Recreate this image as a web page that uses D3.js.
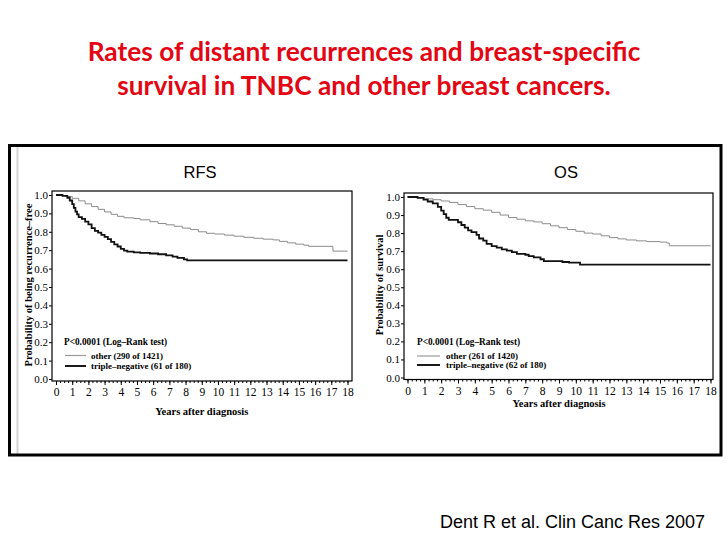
<!DOCTYPE html>
<html><head><meta charset="utf-8">
<script src="https://cdn.jsdelivr.net/npm/d3@7"></script>
<style>body{margin:0;background:#fff}</style>
</head><body>
<svg id="c" width="728" height="546"></svg>
<script>
// ---------- data ----------
const titleLines = ["Rates of distant recurrences and breast-specific", "survival in TNBC and other breast cancers."];
const sourceText = "Dent R et al. Clin Canc Res 2007";
const panelTitles = ["RFS", "OS"];
const yTitles = ["Probability of being recurrence\u2013free", "Probability of survival"];
const xTitle = "Years after diagnosis";
const pValueText = "P<0.0001 (Log\u2013Rank test)";
const rfsLegend = ["other (290 of 1421)", "triple\u2013negative (61 of 180)"];
const osLegend = ["other (261 of 1420)", "triple\u2013negative (62 of 180)"];
const xTickValues = d3.range(0, 19);
const yTickValues = [0, 0.1, 0.2, 0.3, 0.4, 0.5, 0.6, 0.7, 0.8, 0.9, 1.0];

// [years, probability] step points (Kaplan-Meier)
const rfsOther = [[0,1],[0.3,0.997],[0.6,0.992],[1.0,0.982],[1.4,0.968],[1.8,0.952],[2.2,0.937],[2.6,0.922],[3.0,0.908],[3.4,0.895],[3.8,0.884],[4.2,0.876],[4.8,0.872],[5.2,0.865],[5.8,0.855],[6.3,0.845],[6.8,0.838],[7.3,0.83],[7.8,0.82],[8.3,0.812],[8.8,0.8],[9.3,0.792],[9.8,0.788],[10.4,0.782],[11.0,0.776],[11.6,0.77],[12.2,0.765],[12.8,0.76],[13.4,0.756],[13.8,0.748],[14.3,0.74],[14.8,0.733],[15.3,0.727],[15.6,0.721],[17.1,0.695],[18,0.695]];
const rfsTriple = [[0,1],[0.4,0.995],[0.7,0.985],[0.85,0.97],[1.0,0.95],[1.1,0.93],[1.2,0.91],[1.3,0.895],[1.4,0.88],[1.6,0.87],[1.8,0.855],[2.0,0.84],[2.2,0.82],[2.4,0.805],[2.6,0.795],[2.8,0.783],[3.0,0.772],[3.2,0.76],[3.4,0.745],[3.6,0.732],[3.8,0.72],[4.0,0.707],[4.2,0.698],[4.4,0.692],[4.8,0.688],[5.2,0.685],[5.8,0.682],[6.3,0.678],[6.8,0.672],[7.2,0.665],[7.5,0.658],[7.9,0.65],[8.1,0.645],[18,0.645]];
const osOther = [[0,1],[0.5,0.997],[1.0,0.99],[1.5,0.985],[2.0,0.978],[2.5,0.97],[3.0,0.958],[3.5,0.947],[4.0,0.935],[4.5,0.927],[5.0,0.915],[5.5,0.9],[6.0,0.886],[6.5,0.877],[7.0,0.868],[7.5,0.862],[8.0,0.852],[8.5,0.84],[9.0,0.83],[9.5,0.82],[10.0,0.81],[10.5,0.8],[11.0,0.795],[11.5,0.785],[12.0,0.775],[12.5,0.768],[13.0,0.762],[13.6,0.757],[14.2,0.753],[15.0,0.75],[15.4,0.745],[15.55,0.73],[18,0.73]];
const osTriple = [[0,1],[0.6,0.995],[0.95,0.985],[1.2,0.975],[1.5,0.965],[1.8,0.945],[2.0,0.925],[2.15,0.905],[2.3,0.885],[2.45,0.873],[3.0,0.86],[3.2,0.845],[3.4,0.83],[3.6,0.815],[3.8,0.805],[4.1,0.79],[4.25,0.77],[4.5,0.758],[4.7,0.74],[5.0,0.728],[5.3,0.72],[5.6,0.71],[5.9,0.703],[6.2,0.695],[6.5,0.685],[7.0,0.68],[7.2,0.672],[7.5,0.665],[7.9,0.655],[8.1,0.645],[9.2,0.64],[9.6,0.636],[10.25,0.625],[18,0.625]];

// ---------- drawing ----------
const svg = d3.select("#c");
const serif = "'Liberation Serif','Times New Roman',serif";
const sans = "'Liberation Sans',Arial,sans-serif";

// title
const titleTarget = 553;
const tl = svg.selectAll("text.title").data(titleLines).join("text")
  .attr("class","title")
  .attr("x", 364).attr("y", (d,i) => i ? 95 : 61)
  .attr("text-anchor","middle")
  .attr("font-family","Lato, 'Open Sans', sans-serif")
  .attr("font-weight","bold")
  .attr("font-size", 28)
  .attr("fill","#e30613")
  .text(d => d);
const w0 = tl.node().getComputedTextLength();
tl.attr("font-size", 28 * titleTarget / w0);

// outer frame
svg.append("line").attr("x1",17.5).attr("x2",17.5).attr("y1",147).attr("y2",454)
  .attr("stroke","#d4d4d4").attr("stroke-width",2);
svg.append("rect").attr("x",9.5).attr("y",145.5).attr("width",711.5).attr("height",309.5)
  .attr("fill","none").attr("stroke","#000").attr("stroke-width",3);

// source
svg.append("text").attr("x",572.5).attr("y",528).attr("text-anchor","middle")
  .attr("font-family",sans).attr("font-size",18).attr("fill","#000").text(sourceText);

const panels = [
  {title: panelTitles[0], titleX: 200, yTitle: yTitles[0], yTitleX: 28, xTitleY: 415,
   frame: {x0: 52, x1: 352, y0: 191, y1: 381}, xr: [56, 347.5], yr: [379, 195],
   other: rfsOther, triple: rfsTriple, legend: rfsLegend,
   leg: {px: 64, py: 345, lx0: 65, lx1: 86, ly: [355.5, 366], tx: 91}},
  {title: panelTitles[1], titleX: 566, yTitle: yTitles[1], yTitleX: 379, xTitleY: 407,
   frame: {x0: 404, x1: 713, y0: 193, y1: 379.5}, xr: [407.5, 710.5], yr: [377.5, 197],
   other: osOther, triple: osTriple, legend: osLegend,
   leg: {px: 417, py: 345, lx0: 417, lx1: 440, ly: [356, 365], tx: 446}}
];

panels.forEach(p => {
  const g = svg.append("g");
  const x = d3.scaleLinear().domain([0, 18]).range(p.xr);
  const y = d3.scaleLinear().domain([0, 1]).range(p.yr);
  const f = p.frame;

  g.append("text").attr("x", p.titleX).attr("y", 178).attr("text-anchor","middle")
    .attr("font-family", sans).attr("font-size", 16.5).attr("fill","#000").text(p.title);

  // y axis
  const ya = g.append("g").attr("transform", `translate(${f.x0},0)`)
    .call(d3.axisLeft(y).tickValues(yTickValues).tickFormat(d3.format(".1f")).tickSize(3).tickPadding(1));
  ya.select(".domain").remove();
  ya.selectAll("text").attr("font-family", serif).attr("font-size", 11).attr("fill","#000");

  // x axis major
  const xa = g.append("g").attr("transform", `translate(0,${f.y1})`)
    .call(d3.axisBottom(x).tickValues(xTickValues).tickFormat(d3.format("d")).tickSize(4).tickPadding(3));
  xa.select(".domain").remove();
  xa.selectAll("text").attr("font-family", serif).attr("font-size", 11.5).attr("fill","#000");
  // x axis minor
  const xm = g.append("g").attr("transform", `translate(0,${f.y1})`)
    .call(d3.axisBottom(x).tickValues(d3.range(0, 18.01, 0.25)).tickFormat("").tickSize(2));
  xm.select(".domain").remove();

  // frame
  g.append("rect").attr("x", f.x0).attr("y", f.y0).attr("width", f.x1 - f.x0).attr("height", f.y1 - f.y0)
    .attr("fill","none").attr("stroke","#000").attr("stroke-width",1.2);

  // titles
  g.append("text").attr("x", (p.xr[0] + p.xr[1]) / 2).attr("y", p.xTitleY).attr("text-anchor","middle")
    .attr("font-family", serif).attr("font-weight","bold").attr("font-size", 10.5).text(xTitle);
  g.append("text").attr("transform", `translate(${p.yTitleX + 3.5},285) rotate(-90)`).attr("text-anchor","middle")
    .attr("font-family", serif).attr("font-weight","bold").attr("font-size", 10.5).text(p.yTitle);

  // curves
  const line = d3.line().x(d => x(d[0])).y(d => y(d[1])).curve(d3.curveStepAfter);
  g.append("path").datum(p.other).attr("d", line).attr("fill","none").attr("stroke","#8c8c8c").attr("stroke-width",1);
  g.append("path").datum(p.triple).attr("d", line).attr("fill","none").attr("stroke","#111").attr("stroke-width",1.8);

  // legend
  const L = p.leg;
  g.append("text").attr("x", L.px).attr("y", L.py).attr("font-family", serif).attr("font-weight","bold")
    .attr("font-size", 9.3).text(pValueText);
  const styles = [{c:"#9a9a9a", w:1.2}, {c:"#000", w:1.8}];
  p.legend.forEach((lab, i) => {
    g.append("line").attr("x1", L.lx0).attr("x2", L.lx1).attr("y1", L.ly[i]).attr("y2", L.ly[i])
      .attr("stroke", styles[i].c).attr("stroke-width", styles[i].w);
    g.append("text").attr("x", L.tx).attr("y", L.ly[i] + 3).attr("font-family", serif).attr("font-weight","bold")
      .attr("font-size", 9).text(lab);
  });
});
</script>
</body></html>
